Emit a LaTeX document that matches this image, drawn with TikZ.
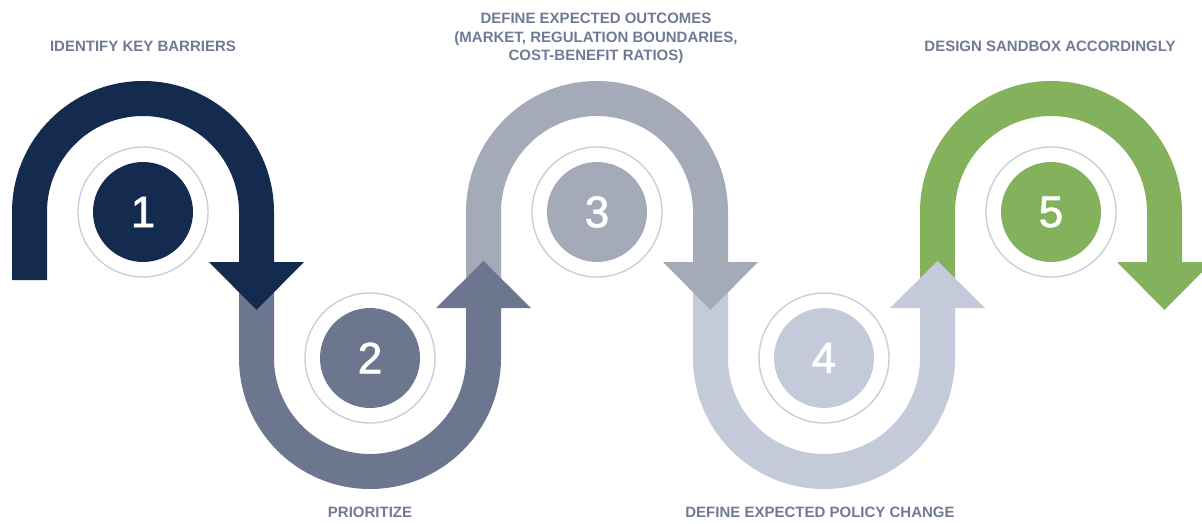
\documentclass[tikz,border=0pt]{standalone}
\usepackage{fontspec}
\setmainfont{Liberation Sans}
\newfontfamily\digitfont[FakeBold=1.6]{Liberation Sans}
\definecolor{cnavy}{HTML}{142A4E}
\definecolor{cslate}{HTML}{6D768F}
\definecolor{cgrey}{HTML}{A5AAB8}
\definecolor{clight}{HTML}{C5CADA}
\definecolor{cgreen}{HTML}{84B15B}
\definecolor{cring}{HTML}{C9CEDC}
\definecolor{ctext}{HTML}{707A95}
% arch over the top, arrow pointing down on the right leg
\newcommand\overarch[2]{%
  \fill[#2] ({#1-131},243) -- ({#1-131},311)
    arc[start angle=180,end angle=0,radius=131pt]
    -- ({#1+131},261) -- ({#1+161},261) -- ({#1+113.5},213)
    -- ({#1+66},261) -- ({#1+96},261) -- ({#1+96},311)
    arc[start angle=0,end angle=180,radius=96pt]
    -- ({#1-96},243) -- cycle;}
% arch along the bottom, arrow pointing up on the right leg
\newcommand\underarch[2]{%
  \fill[#2] ({#1-131},243) -- ({#1-131},165)
    arc[start angle=180,end angle=360,radius=131pt]
    -- ({#1+131},215) -- ({#1+161},215) -- ({#1+113.5},262)
    -- ({#1+66},215) -- ({#1+96},215) -- ({#1+96},165)
    arc[start angle=360,end angle=180,radius=96pt]
    -- ({#1-96},243) -- cycle;}
\tikzset{
  ring/.style={circle,draw=cring,line width=1.4pt,minimum size=130pt,inner sep=0pt},
  disc/.style={circle,fill=#1,minimum size=100pt,inner sep=0pt,text=white,
    font=\digitfont\fontsize{44}{44}\selectfont},
  steplabel/.style={text=ctext,align=center,
    font=\fontsize{15}{18.5}\selectfont\bfseries}
}
\begin{document}
\begin{tikzpicture}[x=1pt,y=1pt]
\useasboundingbox (0,0) rectangle (1202,523);
\begin{scope}
\clip (0,0) rectangle (1202,523);
% later arches first so each arrowhead lies over the next arch
\overarch{1051}{cgreen}
\underarch{824}{clight}
\overarch{597}{cgrey}
\underarch{370}{cslate}
\overarch{143}{cnavy}
\end{scope}
% numbered circles
\node[ring] (r1) at (143,311) {};
\node[disc=cnavy] (s1) at (143,311) {1};
\node[ring] (r2) at (370,165) {};
\node[disc=cslate] (s2) at (370,165) {2};
\node[ring] (r3) at (597,311) {};
\node[disc=cgrey] (s3) at (597,311) {3};
\node[ring] (r4) at (824,165) {};
\node[disc=clight] (s4) at (824,165) {4};
\node[ring] (r5) at (1051,311) {};
\node[disc=cgreen] (s5) at (1051,311) {5};
% step labels
\node[steplabel] (l1) at (143,477) {IDENTIFY KEY BARRIERS};
\node[steplabel] (l2) at (370,11) {PRIORITIZE};
\node[steplabel] (l3) at (596,484.5) {DEFINE EXPECTED OUTCOMES\\(MARKET, REGULATION BOUNDARIES,\\COST-BENEFIT RATIOS)};
\node[steplabel] (l4) at (820,11) {DEFINE EXPECTED POLICY CHANGE};
\node[steplabel] (l5) at (1050,477) {DESIGN SANDBOX ACCORDINGLY};
\end{tikzpicture}
\end{document}
